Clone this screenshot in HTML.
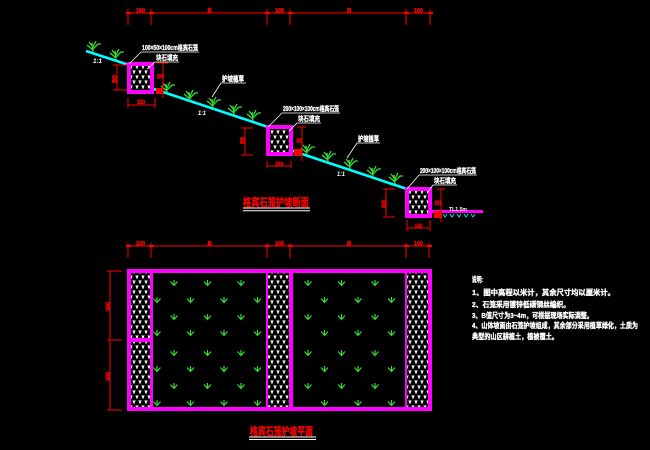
<!DOCTYPE html>
<html><head><meta charset="utf-8">
<style>
html,body{margin:0;padding:0;background:#000;width:650px;height:450px;overflow:hidden}
svg{display:block}
text{font-family:"Liberation Sans","Noto Sans CJK SC",sans-serif;font-weight:bold}
</style></head>
<body>
<svg width="650" height="450" viewBox="0 0 650 450" xmlns="http://www.w3.org/2000/svg">
<defs>
<pattern id="st" x="0" y="0" width="6" height="10" patternUnits="userSpaceOnUse">
<rect width="6" height="10" fill="#000"/>
<polygon points="0.2,0.5 3.8,0.5 2.8,2 2.8,3.5 1.2,3.5 1.2,2" fill="#fff"/>
<polygon points="3.2,5.5 6.8,5.5 5.8,7 5.8,8.5 4.2,8.5 4.2,7" fill="#fff"/>
<polygon points="-2.8,5.5 0.8,5.5 -0.2,7 -0.2,8.5 -1.8,8.5 -1.8,7" fill="#fff"/>
</pattern>
</defs>
<rect width="650" height="450" fill="#000"/>

<!-- ===== SECTION ===== -->
<g stroke="#f00" stroke-width="1" fill="none">
<line x1="127" y1="13" x2="432" y2="13"/>
<line x1="128" y1="9" x2="128" y2="25"/><line x1="151" y1="9" x2="151" y2="25"/>
<line x1="267" y1="9" x2="267" y2="25"/><line x1="290" y1="9" x2="290" y2="25"/>
<line x1="406" y1="9" x2="406" y2="25"/><line x1="430" y1="9" x2="430" y2="25"/>
<line x1="126" y1="13" x2="131" y2="13" stroke-width="2"/><line x1="149" y1="13" x2="154" y2="13" stroke-width="2"/>
<line x1="265" y1="13" x2="270" y2="13" stroke-width="2"/><line x1="288" y1="13" x2="293" y2="13" stroke-width="2"/>
<line x1="404" y1="13" x2="409" y2="13" stroke-width="2"/><line x1="428" y1="13" x2="433" y2="13" stroke-width="2"/>
</g>
<g fill="#f00" font-size="6" stroke="#f00" stroke-width="0.3">
<text x="136" y="12.5" textLength="9" lengthAdjust="spacingAndGlyphs">100</text>
<text x="207.5" y="12.5">B</text>
<text x="275" y="12.5" textLength="9" lengthAdjust="spacingAndGlyphs">100</text>
<text x="347" y="12.5">B</text>
<text x="414" y="12.5" textLength="9" lengthAdjust="spacingAndGlyphs">100</text>
</g>

<g stroke="#0ff" stroke-width="2.6" fill="none">
<line x1="86" y1="51" x2="129" y2="65"/>
<line x1="151" y1="88" x2="268" y2="127"/>
<line x1="290" y1="150" x2="407" y2="189"/>
</g>

<path fill="none" stroke="#33dd33" stroke-width="1.3" d="
M93,52l-1,-9m1,7l-6,-5m6,4l5,-5l3,0m-8,3l-4,-5m4,5l3,-6
M116,60l-1,-9m1,7l-6,-5m6,4l5,-5l3,0m-8,3l-4,-5m4,5l3,-6
M167,93l-1,-9m1,7l-6,-5m6,4l5,-5l3,0m-8,3l-4,-5m4,5l3,-6
M190,101l-1,-9m1,7l-6,-5m6,4l5,-5l3,0m-8,3l-4,-5m4,5l3,-6
M213,108l-1,-9m1,7l-6,-5m6,4l5,-5l3,0m-8,3l-4,-5m4,5l3,-6
M234,115l-1,-9m1,7l-6,-5m6,4l5,-5l3,0m-8,3l-4,-5m4,5l3,-6
M253,121l-1,-9m1,7l-6,-5m6,4l5,-5l3,0m-8,3l-4,-5m4,5l3,-6
M307,155l-1,-9m1,7l-6,-5m6,4l5,-5l3,0m-8,3l-4,-5m4,5l3,-6
M328,162l-1,-9m1,7l-6,-5m6,4l5,-5l3,0m-8,3l-4,-5m4,5l3,-6
M350,169l-1,-9m1,7l-6,-5m6,4l5,-5l3,0m-8,3l-4,-5m4,5l3,-6
M373,177l-1,-9m1,7l-6,-5m6,4l5,-5l3,0m-8,3l-4,-5m4,5l3,-6
M395,184l-1,-9m1,7l-6,-5m6,4l5,-5l3,0m-8,3l-4,-5m4,5l3,-6"/>

<rect x="129" y="64" width="23" height="28" fill="url(#st)"/>
<rect x="268" y="127" width="23" height="27" fill="url(#st)"/>
<rect x="407" y="189" width="23" height="27" fill="url(#st)"/>
<g stroke="#f0f" stroke-width="4" fill="none">
<rect x="129" y="64" width="23" height="28"/>
<rect x="268" y="127" width="23" height="27"/>
<rect x="407" y="189" width="23" height="27"/>
</g>
<line x1="432" y1="211.5" x2="483" y2="211.5" stroke="#f0f" stroke-width="3"/>
<path d="M443,214l2,3l2,-3m3,0l2,3l2,-3m3,0l2,3l2,-3m3,0l2,3l2,-3m3,0l2,3l2,-3" stroke="#0ff" stroke-width="0.8" fill="none"/>

<g fill="#f00">
<rect x="156" y="88" width="7" height="6"/>
<rect x="294" y="149" width="8" height="7"/>
<rect x="434" y="211" width="8" height="7"/>
</g>

<g stroke="#f00" stroke-width="1" fill="none">
<line x1="117" y1="65" x2="117" y2="90"/><line x1="113" y1="65" x2="127" y2="65"/><line x1="113" y1="90" x2="127" y2="90"/>
<line x1="163" y1="63" x2="163" y2="98"/><line x1="157" y1="63" x2="168" y2="63"/>
<line x1="128" y1="105" x2="155" y2="105"/><line x1="128" y1="98" x2="128" y2="108"/><line x1="155" y1="98" x2="155" y2="108"/>
<line x1="245" y1="128" x2="245" y2="155"/><line x1="241" y1="128" x2="253" y2="128"/><line x1="241" y1="155" x2="253" y2="155"/>
<line x1="302" y1="127" x2="302" y2="161"/><line x1="297" y1="127" x2="306" y2="127"/>
<line x1="267" y1="166" x2="291" y2="166"/><line x1="267" y1="161" x2="267" y2="168"/><line x1="291" y1="161" x2="291" y2="168"/>
<line x1="386" y1="189" x2="386" y2="217"/><line x1="383" y1="189" x2="395" y2="189"/><line x1="383" y1="217" x2="395" y2="217"/>
<line x1="441" y1="189" x2="441" y2="222"/><line x1="437" y1="189" x2="445" y2="189"/>
<line x1="407" y1="228" x2="430" y2="228"/><line x1="407" y1="220" x2="407" y2="231"/><line x1="430" y1="220" x2="430" y2="231"/>
</g>
<g fill="#f00" font-size="6" stroke="#f00" stroke-width="0.3">
<text transform="translate(116.5,83) rotate(-90)" textLength="8" lengthAdjust="spacingAndGlyphs">80</text>
<text x="157" y="78.5" textLength="6" lengthAdjust="spacingAndGlyphs">50</text>
<text x="137" y="104" textLength="8" lengthAdjust="spacingAndGlyphs">100</text>
<text transform="translate(244.5,144) rotate(-90)" textLength="7" lengthAdjust="spacingAndGlyphs">80</text>
<text x="296.5" y="143" textLength="6" lengthAdjust="spacingAndGlyphs">50</text>
<text x="275" y="166" textLength="8" lengthAdjust="spacingAndGlyphs">100</text>
<text transform="translate(386,208) rotate(-90)" textLength="8" lengthAdjust="spacingAndGlyphs">80</text>
<text x="435" y="205" textLength="6" lengthAdjust="spacingAndGlyphs">50</text>
<text x="414.5" y="228" textLength="8" lengthAdjust="spacingAndGlyphs">100</text>
</g>

<g stroke="#fff" stroke-width="0.8" fill="none">
<polyline points="129,64 141,52 199,52"/>
<polyline points="147,69 155,62 179,62"/>
<polyline points="268,127 282,113 340,113"/>
<polyline points="289,131 297,123 321,123"/>
<polyline points="407,189 419,175 477,175"/>
<polyline points="427,193 433,185 457,185"/>
<polyline points="212,97 221,83 246,83"/>
<polyline points="347,158 357,143 380,143"/>
</g>
<g fill="#fff" font-size="7" stroke="#fff" stroke-width="0.35">
<text x="142" y="50" textLength="56" lengthAdjust="spacingAndGlyphs">100×50×100cm格宾石笼</text>
<text x="156" y="60" textLength="22" lengthAdjust="spacingAndGlyphs">块石填充</text>
<text x="283" y="111" textLength="56" lengthAdjust="spacingAndGlyphs">200×100×100cm格宾石笼</text>
<text x="298" y="121" textLength="22" lengthAdjust="spacingAndGlyphs">块石填充</text>
<text x="420" y="173" textLength="56" lengthAdjust="spacingAndGlyphs">200×100×100cm格宾石笼</text>
<text x="434" y="183" textLength="22" lengthAdjust="spacingAndGlyphs">块石填充</text>
<text x="222" y="81" textLength="22" lengthAdjust="spacingAndGlyphs">护坡植草</text>
<text x="358" y="141" textLength="21" lengthAdjust="spacingAndGlyphs">护坡植草</text>
</g>
<g fill="#fff" font-size="6" font-style="italic">
<text x="93" y="63" textLength="9" lengthAdjust="spacingAndGlyphs">1:1</text>
<text x="198" y="115" textLength="8" lengthAdjust="spacingAndGlyphs">1:1</text>
<text x="337" y="176" textLength="8" lengthAdjust="spacingAndGlyphs">1:1</text>
<text x="449" y="211" font-style="normal" font-size="5" textLength="18" lengthAdjust="spacingAndGlyphs">TL1.5m</text>
</g>

<text x="243" y="206" fill="#f00" stroke="#f00" stroke-width="0.3" font-size="11" textLength="66" lengthAdjust="spacingAndGlyphs">格宾石笼护坡断面</text>
<line x1="243" y1="208" x2="310" y2="208" stroke="#fff" stroke-width="1"/>
<line x1="243" y1="210.7" x2="310" y2="210.7" stroke="#fff" stroke-width="1"/>

<!-- ===== PLAN ===== -->
<g stroke="#f00" stroke-width="1" fill="none">
<line x1="127" y1="246" x2="432" y2="246"/>
<line x1="128" y1="243" x2="128" y2="258"/><line x1="151" y1="243" x2="151" y2="258"/>
<line x1="267" y1="243" x2="267" y2="258"/><line x1="290" y1="243" x2="290" y2="258"/>
<line x1="406" y1="243" x2="406" y2="258"/><line x1="429" y1="243" x2="429" y2="258"/>
<line x1="126" y1="246" x2="131" y2="246" stroke-width="2"/><line x1="149" y1="246" x2="154" y2="246" stroke-width="2"/>
<line x1="265" y1="246" x2="270" y2="246" stroke-width="2"/><line x1="288" y1="246" x2="293" y2="246" stroke-width="2"/>
<line x1="404" y1="246" x2="409" y2="246" stroke-width="2"/><line x1="427" y1="246" x2="432" y2="246" stroke-width="2"/>
<line x1="110" y1="271" x2="110" y2="410"/>
<line x1="107" y1="271" x2="122" y2="271"/><line x1="107" y1="340" x2="122" y2="340"/><line x1="107" y1="410" x2="122" y2="410"/>
</g>
<g fill="#f00" font-size="6" stroke="#f00" stroke-width="0.3">
<text x="136" y="245.5" textLength="9" lengthAdjust="spacingAndGlyphs">100</text>
<text x="207.5" y="245.5">B</text>
<text x="275" y="245.5" textLength="9" lengthAdjust="spacingAndGlyphs">100</text>
<text x="347" y="245.5">B</text>
<text x="414" y="245.5" textLength="9" lengthAdjust="spacingAndGlyphs">100</text>
<text transform="translate(110,311) rotate(-90)" textLength="9" lengthAdjust="spacingAndGlyphs">300</text>
<text transform="translate(110,381) rotate(-90)" textLength="9" lengthAdjust="spacingAndGlyphs">300</text>
</g>

<path fill="none" stroke="#33dd33" stroke-width="1.2" d="
M174,280v5.5m-3.5,-4l3.5,4l3.5,-4 M207.5,280v5.5m-3.5,-4l3.5,4l3.5,-4 M241,280v5.5m-3.5,-4l3.5,4l3.5,-4 M308,280v5.5m-3.5,-4l3.5,4l3.5,-4 M341.5,280v5.5m-3.5,-4l3.5,4l3.5,-4 M375,280v5.5m-3.5,-4l3.5,4l3.5,-4
M174,314v5.5m-3.5,-4l3.5,4l3.5,-4 M207.5,314v5.5m-3.5,-4l3.5,4l3.5,-4 M241,314v5.5m-3.5,-4l3.5,4l3.5,-4 M308,314v5.5m-3.5,-4l3.5,4l3.5,-4 M341.5,314v5.5m-3.5,-4l3.5,4l3.5,-4 M375,314v5.5m-3.5,-4l3.5,4l3.5,-4
M174,350v5.5m-3.5,-4l3.5,4l3.5,-4 M207.5,350v5.5m-3.5,-4l3.5,4l3.5,-4 M241,350v5.5m-3.5,-4l3.5,4l3.5,-4 M308,350v5.5m-3.5,-4l3.5,4l3.5,-4 M341.5,350v5.5m-3.5,-4l3.5,4l3.5,-4 M375,350v5.5m-3.5,-4l3.5,4l3.5,-4
M174,383v5.5m-3.5,-4l3.5,4l3.5,-4 M207.5,383v5.5m-3.5,-4l3.5,4l3.5,-4 M241,383v5.5m-3.5,-4l3.5,4l3.5,-4 M308,383v5.5m-3.5,-4l3.5,4l3.5,-4 M341.5,383v5.5m-3.5,-4l3.5,4l3.5,-4 M375,383v5.5m-3.5,-4l3.5,4l3.5,-4
M157,297v5.5m-3.5,-4l3.5,4l3.5,-4 M190.5,297v5.5m-3.5,-4l3.5,4l3.5,-4 M224,297v5.5m-3.5,-4l3.5,4l3.5,-4 M257.5,297v5.5m-3.5,-4l3.5,4l3.5,-4 M324.5,297v5.5m-3.5,-4l3.5,4l3.5,-4 M358,297v5.5m-3.5,-4l3.5,4l3.5,-4 M391.5,297v5.5m-3.5,-4l3.5,4l3.5,-4
M157,330v5.5m-3.5,-4l3.5,4l3.5,-4 M190.5,330v5.5m-3.5,-4l3.5,4l3.5,-4 M224,330v5.5m-3.5,-4l3.5,4l3.5,-4 M257.5,330v5.5m-3.5,-4l3.5,4l3.5,-4 M324.5,330v5.5m-3.5,-4l3.5,4l3.5,-4 M358,330v5.5m-3.5,-4l3.5,4l3.5,-4 M391.5,330v5.5m-3.5,-4l3.5,4l3.5,-4
M157,366v5.5m-3.5,-4l3.5,4l3.5,-4 M190.5,366v5.5m-3.5,-4l3.5,4l3.5,-4 M224,366v5.5m-3.5,-4l3.5,4l3.5,-4 M257.5,366v5.5m-3.5,-4l3.5,4l3.5,-4 M324.5,366v5.5m-3.5,-4l3.5,4l3.5,-4 M358,366v5.5m-3.5,-4l3.5,4l3.5,-4 M391.5,366v5.5m-3.5,-4l3.5,4l3.5,-4
M157,400v5.5m-3.5,-4l3.5,4l3.5,-4 M190.5,400v5.5m-3.5,-4l3.5,4l3.5,-4 M224,400v5.5m-3.5,-4l3.5,4l3.5,-4 M257.5,400v5.5m-3.5,-4l3.5,4l3.5,-4 M324.5,400v5.5m-3.5,-4l3.5,4l3.5,-4 M358,400v5.5m-3.5,-4l3.5,4l3.5,-4 M391.5,400v5.5m-3.5,-4l3.5,4l3.5,-4"/>

<rect x="131" y="272" width="19" height="136" fill="url(#st)"/>
<rect x="268" y="271" width="21" height="140" fill="url(#st)"/>
<rect x="407" y="271" width="21" height="140" fill="url(#st)"/>
<g fill="#f0f">
<rect x="150" y="271" width="3" height="138"/>
<rect x="131" y="338" width="19" height="4"/>
<rect x="266" y="271" width="2" height="138"/>
<rect x="289" y="271" width="4" height="138"/>
<rect x="405" y="271" width="2" height="138"/>
</g>
<rect x="129" y="271" width="301" height="138" fill="none" stroke="#f0f" stroke-width="4"/>

<text x="250" y="435" fill="#f00" stroke="#f00" stroke-width="0.3" font-size="11" textLength="63" lengthAdjust="spacingAndGlyphs">格宾石笼护坡平面</text>
<line x1="249" y1="437" x2="316" y2="437" stroke="#fff" stroke-width="1"/>
<line x1="249" y1="439.5" x2="316" y2="439.5" stroke="#fff" stroke-width="1"/>

<g fill="#fff" font-size="7.5" stroke="#fff" stroke-width="0.35">
<text x="472" y="282" textLength="11" lengthAdjust="spacingAndGlyphs">说明:</text>
<text x="472" y="295" textLength="143" lengthAdjust="spacingAndGlyphs">1、图中高程以米计，其余尺寸均以厘米计。</text>
<text x="472" y="307" textLength="98" lengthAdjust="spacingAndGlyphs">2、石笼采用镀锌低碳钢丝编织。</text>
<text x="472" y="318" textLength="121" lengthAdjust="spacingAndGlyphs">3、B值尺寸为3~4m，可根据现场实际调整。</text>
<text x="472" y="328" textLength="166" lengthAdjust="spacingAndGlyphs">4、山体坡面由石笼护坡组成，其余部分采用植草绿化，土质为</text>
<text x="472" y="339" textLength="86" lengthAdjust="spacingAndGlyphs">典型的山区耕植土，植被覆土。</text>
</g>
</svg>
</body></html>
